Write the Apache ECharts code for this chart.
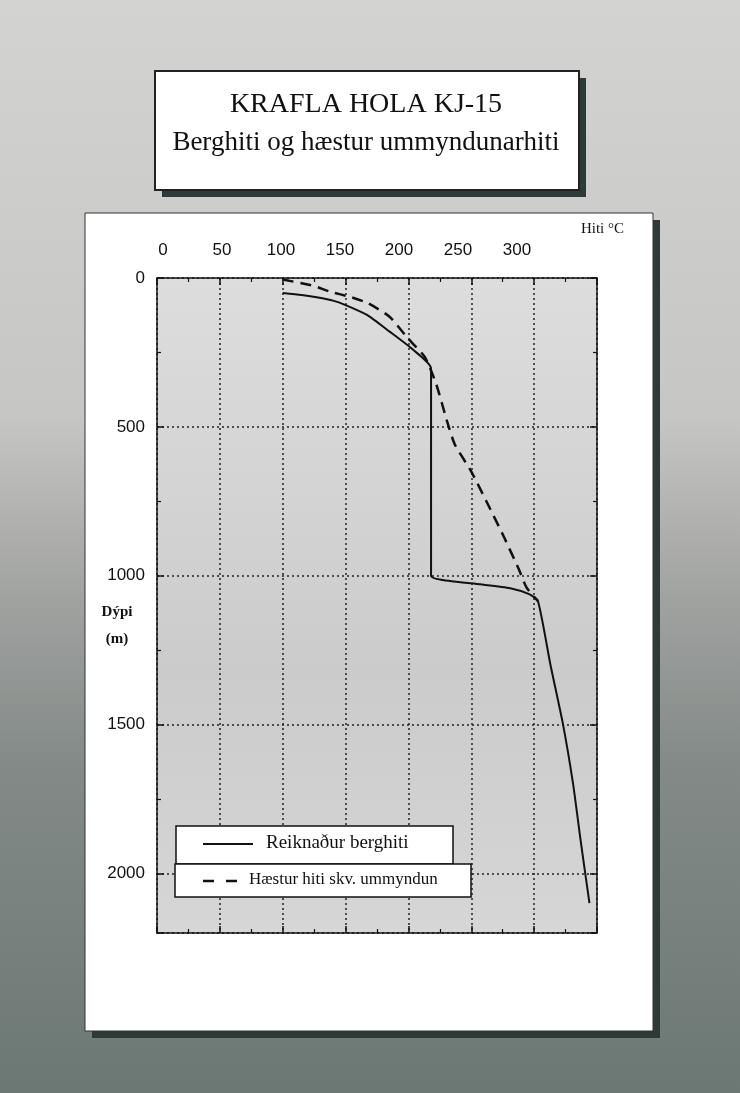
<!DOCTYPE html>
<html><head><meta charset="utf-8">
<script src="https://cdn.jsdelivr.net/npm/echarts@6/dist/echarts.min.js"></script>
<style>html,body{margin:0;padding:0;background:#fff;} #c{width:740px;height:1093px;}</style>
</head><body><div id="c"></div>
<script>
const titleLines = ['KRAFLA HOLA KJ-15', 'Berghiti og hæstur ummyndunarhiti'];
const xTickLabels = ['0', '50', '100', '150', '200', '250', '300'];
const yTickLabels = ['0', '500', '1000', '1500', '2000'];
const xAxisName = 'Hiti °C';
const yAxisName = ['Dýpi', '(m)'];
const seriesNames = ['Reiknaður berghiti', 'Hæstur hiti skv. ummyndun'];

// Reiknaður berghiti (temperature °C, depth m)
const berghitiTemp  = [100, 115, 127, 140, 150, 167, 185, 204, 218, 218, 232, 257, 281, 296, 303, 313, 323, 331, 337, 344];
const berghitiDepth = [50, 57, 65, 76, 91, 124, 180, 242, 304, 1000, 1017, 1029, 1042, 1062, 1085, 1300, 1500, 1700, 1890, 2100];
// Hæstur hiti skv. ummyndun
const ummyndunTemp  = [100, 125, 137, 155, 168, 185, 199, 213, 222, 231, 237, 250, 262, 276, 288, 294, 303];
const ummyndunDepth = [5, 27, 45, 65, 85, 130, 200, 265, 355, 485, 560, 650, 750, 870, 980, 1040, 1085];

const zip = (a, b) => a.map((v, i) => [v, b[i]]);
const chart = echarts.init(document.getElementById('c'), null, {renderer: 'canvas'});

const INK = '#111';
const SHADOW = '#2e3a37';
const sans = 'Liberation Sans';

function xAxisCfg(pos, withGrid) {
  return {
    gridIndex: 0, type: 'value', position: pos, min: 0, max: 350, interval: 50,
    axisLine: {show: true, onZero: false, lineStyle: {color: INK, width: 1.5}},
    axisTick: {show: true, inside: true, length: 7, lineStyle: {color: INK, width: 1.5}},
    minorTick: {show: true, splitNumber: 2, length: 4, lineStyle: {color: INK, width: 1.2}},
    axisLabel: {show: false},
    splitLine: {show: withGrid, lineStyle: {type: [2, 3], color: '#222', width: 1.5}},
    minorSplitLine: {show: false}
  };
}
function yAxisCfg(pos, withGrid) {
  return {
    gridIndex: 0, type: 'value', position: pos, inverse: true, min: 0, max: 2200, interval: 500,
    axisLine: {show: true, onZero: false, lineStyle: {color: INK, width: 1.5}},
    axisTick: {show: true, inside: true, length: 7, lineStyle: {color: INK, width: 1.5}},
    minorTick: {show: true, splitNumber: 2, length: 4, lineStyle: {color: INK, width: 1.2}},
    axisLabel: pos === 'left' ? {
      show: true, margin: 12, fontSize: 17, color: INK, fontFamily: sans,
      formatter: v => yTickLabels.includes(String(v)) ? String(v) : ''
    } : {show: false},
    splitLine: {show: withGrid, lineStyle: {type: [2, 3], color: '#222', width: 1.5}}
  };
}

const option = {
  animation: false,
  backgroundColor: 'transparent',
  grid: [{
    left: 157, top: 278, width: 440, height: 655, show: true,
    backgroundColor: {type: 'linear', x: 0, y: 0, x2: 0, y2: 1, colorStops: [
      {offset: 0, color: '#dddddd'}, {offset: 0.45, color: '#d0d0d0'}, {offset: 0.6, color: '#cbcbcb'}, {offset: 1, color: '#d6d6d6'}]},
    borderWidth: 0
  }, {
    // label strip for the temperature scale as printed (slightly compressed vs. grid)
    left: 163, top: 278, width: 413, height: 655, show: false
  }],
  xAxis: [xAxisCfg('top', true), xAxisCfg('bottom', false), {
    gridIndex: 1, type: 'value', position: 'top', min: 0, max: 350, interval: 50,
    axisLine: {show: false}, axisTick: {show: false}, splitLine: {show: false},
    axisLabel: {show: true, margin: 19, fontSize: 17, color: INK, fontFamily: sans,
      formatter: v => xTickLabels.includes(String(v)) ? String(v) : ''}
  }],
  yAxis: [yAxisCfg('left', true), yAxisCfg('right', false), {
    gridIndex: 1, type: 'value', inverse: true, min: 0, max: 2200, show: false
  }],
  series: [
    {name: seriesNames[0], type: 'line', xAxisIndex: 0, yAxisIndex: 0, data: zip(berghitiTemp, berghitiDepth),
     showSymbol: false, smooth: 0.2, z: 5, lineStyle: {color: INK, width: 2}},
    {name: seriesNames[1], type: 'line', xAxisIndex: 0, yAxisIndex: 0, data: zip(ummyndunTemp, ummyndunDepth),
     showSymbol: false, smooth: 0.2, z: 6, lineStyle: {color: INK, width: 2.5, type: [11, 7]}}
  ],
  graphic: [
    // page background
    {type: 'rect', z: -100, silent: true, shape: {x: 0, y: 0, width: 740, height: 1093},
     style: {fill: {type: 'linear', x: 0, y: 0, x2: 0, y2: 1, colorStops: [
       {offset: 0, color: '#d3d3d1'}, {offset: 0.38, color: '#c6c6c4'}, {offset: 0.55, color: '#a0a2a0'},
       {offset: 0.7, color: '#838a87'}, {offset: 1, color: '#6c7874'}]}}},
    // title box
    {type: 'rect', z: -90, silent: true, shape: {x: 162, y: 78, width: 424, height: 119}, style: {fill: SHADOW}},
    {type: 'rect', z: -89, silent: true, shape: {x: 155, y: 71, width: 424, height: 119}, style: {fill: '#fff', stroke: '#222', lineWidth: 2}},
    {type: 'text', z: -88, silent: true, x: 366, y: 105, style: {text: titleLines[0], font: '28px "Liberation Serif"', fill: INK, align: 'center', verticalAlign: 'middle'}},
    {type: 'text', z: -88, silent: true, x: 366, y: 143, style: {text: titleLines[1], font: '27px "Liberation Serif"', fill: INK, align: 'center', verticalAlign: 'middle'}},
    // panel
    {type: 'rect', z: -80, silent: true, shape: {x: 92, y: 220, width: 568, height: 818}, style: {fill: SHADOW}},
    {type: 'rect', z: -79, silent: true, shape: {x: 85, y: 213, width: 568, height: 818}, style: {fill: '#fff', stroke: '#333', lineWidth: 1}},
    // axis names
    {type: 'text', z: 50, silent: true, x: 624, y: 229, style: {text: xAxisName, font: '15px "Liberation Serif"', fill: INK, align: 'right', verticalAlign: 'middle'}},
    {type: 'text', z: 50, silent: true, x: 117, y: 612, style: {text: yAxisName[0], font: 'bold 15px "Liberation Serif"', fill: INK, align: 'center', verticalAlign: 'middle'}},
    {type: 'text', z: 50, silent: true, x: 117, y: 639, style: {text: yAxisName[1], font: 'bold 15px "Liberation Serif"', fill: INK, align: 'center', verticalAlign: 'middle'}},
    // legend
    {type: 'rect', z: 100, silent: true, shape: {x: 176, y: 826, width: 277, height: 38}, style: {fill: '#fff', stroke: INK, lineWidth: 1.5}},
    {type: 'line', z: 101, silent: true, shape: {x1: 203, y1: 844, x2: 253, y2: 844}, style: {stroke: INK, lineWidth: 2}},
    {type: 'text', z: 101, silent: true, x: 266, y: 843, style: {text: seriesNames[0], font: '19px "Liberation Serif"', fill: INK, align: 'left', verticalAlign: 'middle'}},
    {type: 'rect', z: 100, silent: true, shape: {x: 175, y: 864, width: 296, height: 33}, style: {fill: '#fff', stroke: INK, lineWidth: 1.5}},
    {type: 'line', z: 101, silent: true, shape: {x1: 203, y1: 881, x2: 238, y2: 881}, style: {stroke: INK, lineWidth: 2.5, lineDash: [11, 12]}},
    {type: 'text', z: 101, silent: true, x: 249, y: 880, style: {text: seriesNames[1], font: '17px "Liberation Serif"', fill: INK, align: 'left', verticalAlign: 'middle'}}
  ]
};
chart.setOption(option);
</script>
</body></html>
